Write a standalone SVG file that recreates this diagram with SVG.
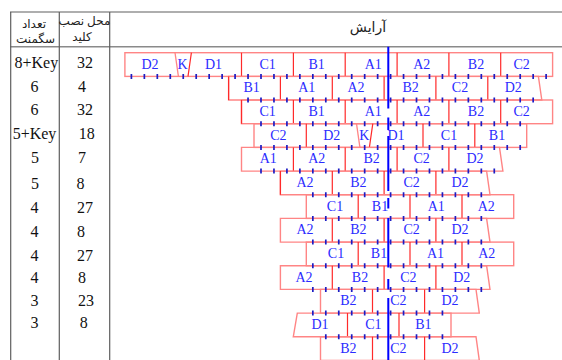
<svg xmlns="http://www.w3.org/2000/svg" width="562" height="360" viewBox="0 0 562 360">
<style>
.tl{stroke:#5f5f5f;stroke-width:1.2;fill:none}
.th{stroke:#8a8a8a;stroke-width:1.6;fill:none}
.fa{font-family:"Liberation Serif","DejaVu Sans",serif;font-size:12px;fill:#222;text-anchor:middle}
.num{font-family:"Liberation Serif",serif;font-size:16px;fill:#111}
.c1{text-anchor:middle}
.out{fill:none;stroke:#ff8585;stroke-width:1.4}
.dv{fill:none;stroke:#ff2a2a;stroke-width:1.2}
.sl{fill:none;stroke:#ff8585;stroke-width:1.3}
.lb{font-family:"Liberation Serif",serif;font-size:14px;fill:#2b2bff;text-anchor:middle}
.tk{fill:none;stroke:#1c1cc4;stroke-width:1.7}
.cl{fill:none;stroke:#0000ff;stroke-width:2}
</style>

<g id="table">
<path class="tl" d="M10 12H562"/>
<path class="th" d="M10 46.7H562"/>
<path class="tl" d="M10.7 12V360M59.3 12V360M109.7 12V360"/>
<text class="fa" x="34" y="27.5">تعداد</text>
<text class="fa" x="35.5" y="43">سگمنت</text>
<text class="fa" x="84.5" y="25">محل نصب</text>
<text class="fa" x="82" y="41">کلید</text>
<text class="fa" x="368" y="32" style="font-size:14px">آرایش</text>
</g>

<g id="col-count" class="num">
<text class="c1" x="36.3" y="68.3">8+Key</text>
<text class="c1" x="34.5" y="92">6</text>
<text class="c1" x="34.5" y="115">6</text>
<text class="c1" x="34.5" y="139.3">5+Key</text>
<text class="c1" x="35" y="163.3">5</text>
<text class="c1" x="35" y="189">5</text>
<text class="c1" x="34.5" y="212.7">4</text>
<text class="c1" x="34.5" y="236.7">4</text>
<text class="c1" x="34.5" y="260.7">4</text>
<text class="c1" x="34.5" y="282.7">4</text>
<text class="c1" x="34.5" y="306">3</text>
<text class="c1" x="34.5" y="328.3">3</text>
</g>
<g id="col-key" class="num">
<text x="77" y="68.3">32</text>
<text x="78" y="92">4</text>
<text x="77" y="115">32</text>
<text x="78.7" y="139.3">18</text>
<text x="78" y="163.3">7</text>
<text x="76.4" y="189">8</text>
<text x="77" y="212.7">27</text>
<text x="77" y="236.7">8</text>
<text x="77" y="260.7">27</text>
<text x="78" y="282.7">8</text>
<text x="78" y="306">23</text>
<text x="79.7" y="328.3">8</text>
</g>

<g id="row1">
<rect class="out" x="124.9" y="52.7" width="427.7" height="23.7"/>
<path class="sl" d="M175 52.7L178.4 76.4"/>
<path class="dv" d="M191.4 52.7L188 76.4M241.5 52.7V76.4M293.4 52.7V76.4M345.2 52.7V76.4M397.1 52.7V76.4M448.9 52.7V76.4M500.7 52.7V76.4"/>
<text class="lb" x="150" y="68.7">D2</text><text class="lb" x="182.5" y="68.7">K</text><text class="lb" x="213.5" y="68.7">D1</text><text class="lb" x="267.7" y="68.7">C1</text><text class="lb" x="316.7" y="68.7">B1</text><text class="lb" x="373.3" y="68.7">A1</text><text class="lb" x="421.7" y="68.7">A2</text><text class="lb" x="476" y="68.7">B2</text><text class="lb" x="521.7" y="68.7">C2</text>
</g>
<g id="row2">
<polygon class="out" points="228.6,76.4 538.4,76.4 541.8,100 228.6,100"/>
<path class="dv" d="M228.6 76.4V100M280.4 76.4V100M332.3 76.4V100M384.1 76.4V100M435.9 76.4V100M487.8 76.4V100"/>
<text class="lb" x="251.7" y="92.4">B1</text><text class="lb" x="306.7" y="92.4">A1</text><text class="lb" x="356" y="92.4">A2</text><text class="lb" x="410.7" y="92.4">B2</text><text class="lb" x="460" y="92.4">C2</text><text class="lb" x="513.3" y="92.4">D2</text>
</g>
<g id="row3">
<rect class="out" x="241.5" y="100" width="311.1" height="23.7"/>
<path class="dv" d="M241.5 100V123.7M293.4 100V123.7M345.2 100V123.7M397.1 100V123.7M448.9 100V123.7M500.7 100V123.7"/>
<text class="lb" x="267.7" y="116">C1</text><text class="lb" x="316.7" y="116">B1</text><text class="lb" x="373.3" y="116">A1</text><text class="lb" x="421.7" y="116">A2</text><text class="lb" x="476" y="116">B2</text><text class="lb" x="521.7" y="116">C2</text>
</g>
<g id="row4">
<rect class="out" x="254" y="123.7" width="272.7" height="23.7"/>
<path class="sl" d="M356.5 123.7L359.9 147.4"/>
<path class="dv" d="M306.3 123.7V147.4M372.8 123.7L369.4 147.4M423 123.7V147.4M474.8 123.7V147.4"/>
<text class="lb" x="278.3" y="139.7">C2</text><text class="lb" x="331.7" y="139.7">D2</text><text class="lb" x="364.2" y="139.7">K</text><text class="lb" x="396" y="139.7">D1</text><text class="lb" x="449" y="139.7">C1</text><text class="lb" x="497" y="139.7">B1</text>
</g>
<g id="row5">
<polygon class="out" points="241.5,147.4 499.5,147.4 502.9,171.1 241.5,171.1"/>
<path class="dv" d="M293.4 147.4V171.1M345.2 147.4V171.1M397.1 147.4V171.1M448.9 147.4V171.1"/>
<text class="lb" x="268.3" y="163.4">A1</text><text class="lb" x="316.7" y="163.4">A2</text><text class="lb" x="371.7" y="163.4">B2</text><text class="lb" x="421.7" y="163.4">C2</text><text class="lb" x="475" y="163.4">D2</text>
</g>
<g id="row6">
<polygon class="out" points="280.4,171.1 486.6,171.1 490,194.7 280.4,194.7"/>
<path class="dv" d="M280.4 171.1V194.7M332.3 171.1V194.7M384.1 171.1V194.7M435.9 171.1V194.7"/>
<text class="lb" x="305" y="187.1">A2</text><text class="lb" x="358.3" y="187.1">B2</text><text class="lb" x="411.7" y="187.1">C2</text><text class="lb" x="460" y="187.1">D2</text>
</g>
<g id="row7">
<rect class="out" x="306.3" y="194.7" width="207.4" height="23.7"/>
<path class="dv" d="M358.2 194.7V218.4M410 194.7V218.4M462 194.7V218.4"/>
<text class="lb" x="335" y="210.7">C1</text><text class="lb" x="380" y="210.7">B1</text><text class="lb" x="436.3" y="210.7">A1</text><text class="lb" x="486.3" y="210.7">A2</text>
</g>
<g id="row8">
<polygon class="out" points="280.4,218.4 486.6,218.4 490,242.1 280.4,242.1"/>
<path class="dv" d="M332.3 218.4V242.1M384.1 218.4V242.1M435.9 218.4V242.1"/>
<text class="lb" x="305" y="234.4">A2</text><text class="lb" x="358.3" y="234.4">B2</text><text class="lb" x="411.7" y="234.4">C2</text><text class="lb" x="460" y="234.4">D2</text>
</g>
<g id="row9">
<rect class="out" x="306.3" y="242.1" width="207.4" height="23.6"/>
<path class="dv" d="M358.2 242.1V265.7M410 242.1V265.7M462 242.1V265.7"/>
<text class="lb" x="336" y="258.1">C1</text><text class="lb" x="379" y="258.1">B1</text><text class="lb" x="435.5" y="258.1">A1</text><text class="lb" x="486.7" y="258.1">A2</text>
</g>
<g id="row10">
<polygon class="out" points="280.4,265.7 486.6,265.7 490,289.4 280.4,289.4"/>
<path class="dv" d="M332.3 265.7V289.4M384.1 265.7V289.4M435.9 265.7V289.4"/>
<text class="lb" x="304" y="281.7">A2</text><text class="lb" x="360" y="281.7">B2</text><text class="lb" x="408.3" y="281.7">C2</text><text class="lb" x="461.7" y="281.7">D2</text>
</g>
<g id="row11">
<polygon class="out" points="320.5,289.4 476,289.4 479.3,313.1 320.5,313.1"/>
<path class="dv" d="M372.5 289.4V313.1M424.6 289.4V313.1"/>
<text class="lb" x="348.3" y="305.4">B2</text><text class="lb" x="398.3" y="305.4">C2</text><text class="lb" x="450" y="305.4">D2</text>
</g>
<g id="row12">
<polygon class="out" points="297.3,313.1 451,313.1 451,336.7 293.3,336.7"/>
<path class="dv" d="M347.5 313.1V336.7M399 313.1V336.7"/>
<text class="lb" x="320" y="329.1">D1</text><text class="lb" x="373.3" y="329.1">C1</text><text class="lb" x="423.3" y="329.1">B1</text>
</g>
<g id="row13">
<polygon class="out" points="320.5,336.7 476,336.7 479.3,360.4 320.5,360.4"/>
<path class="dv" d="M372.5 336.7V360.4M424.6 336.7V360.4"/>
<text class="lb" x="348.3" y="352.7">B2</text><text class="lb" x="398.3" y="352.7">C2</text><text class="lb" x="450" y="352.7">D2</text>
</g>

<g id="connectors">
<path class="tk" d="M131.4 73.9v5m12.96-5v5m12.96-5v5m12.96-5v5m12.96-5v5m12.96-5v5m12.96-5v5m12.96-5v5m12.96-5v5m12.96-5v5m12.96-5v5m12.96-5v5m12.96-5v5m12.96-5v5m12.96-5v5m12.96-5v5m12.96-5v5m12.96-5v5m12.96-5v5m12.96-5v5m12.96-5v5m12.96-5v5m12.96-5v5m12.96-5v5m12.96-5v5m12.96-5v5m12.96-5v5m12.96-5v5m12.96-5v5m12.96-5v5m12.96-5v5m12.96-5v5m12.96-5v5"/>
<path class="tk" d="M248.04 97.5v5m12.96-5v5m12.96-5v5m12.96-5v5m12.96-5v5m12.96-5v5m12.96-5v5m12.96-5v5m12.96-5v5m12.96-5v5m12.96-5v5m12.96-5v5m12.96-5v5m12.96-5v5m12.96-5v5m12.96-5v5m12.96-5v5m12.96-5v5m12.96-5v5m12.96-5v5m12.96-5v5m12.96-5v5m12.96-5v5"/>
<path class="tk" d="M261 121.2v5m12.96-5v5m12.96-5v5m12.96-5v5m12.96-5v5m12.96-5v5m12.96-5v5m12.96-5v5m12.96-5v5m12.96-5v5m12.96-5v5m12.96-5v5m12.96-5v5m12.96-5v5m12.96-5v5m12.96-5v5m12.96-5v5m12.96-5v5m12.96-5v5m12.96-5v5m12.96-5v5"/>
<path class="tk" d="M261 144.9v5m12.96-5v5m12.96-5v5m12.96-5v5m12.96-5v5m12.96-5v5m12.96-5v5m12.96-5v5m12.96-5v5m12.96-5v5m12.96-5v5m12.96-5v5m12.96-5v5m12.96-5v5m12.96-5v5m12.96-5v5m12.96-5v5m12.96-5v5m12.96-5v5m12.96-5v5m12.96-5v5"/>
<path class="tk" d="M261 168.6v5m12.96-5v5m12.96-5v5m12.96-5v5m12.96-5v5m12.96-5v5m12.96-5v5m12.96-5v5m12.96-5v5m12.96-5v5m12.96-5v5m12.96-5v5m12.96-5v5m12.96-5v5m12.96-5v5m12.96-5v5m12.96-5v5m12.96-5v5m12.96-5v5"/>
<path class="tk" d="M312.84 192.2v5m12.96-5v5m12.96-5v5m12.96-5v5m12.96-5v5m12.96-5v5m12.96-5v5m12.96-5v5m12.96-5v5m12.96-5v5m12.96-5v5m12.96-5v5m12.96-5v5m12.96-5v5"/>
<path class="tk" d="M312.84 215.9v5m12.96-5v5m12.96-5v5m12.96-5v5m12.96-5v5m12.96-5v5m12.96-5v5m12.96-5v5m12.96-5v5m12.96-5v5m12.96-5v5m12.96-5v5m12.96-5v5m12.96-5v5"/>
<path class="tk" d="M312.84 239.6v5m12.96-5v5m12.96-5v5m12.96-5v5m12.96-5v5m12.96-5v5m12.96-5v5m12.96-5v5m12.96-5v5m12.96-5v5m12.96-5v5m12.96-5v5m12.96-5v5m12.96-5v5"/>
<path class="tk" d="M312.84 263.2v5m12.96-5v5m12.96-5v5m12.96-5v5m12.96-5v5m12.96-5v5m12.96-5v5m12.96-5v5m12.96-5v5m12.96-5v5m12.96-5v5m12.96-5v5m12.96-5v5m12.96-5v5"/>
<path class="tk" d="M312.84 286.9v5m12.96-5v5m12.96-5v5m12.96-5v5m12.96-5v5m12.96-5v5m12.96-5v5m12.96-5v5m12.96-5v5m12.96-5v5m12.96-5v5m12.96-5v5m12.96-5v5m12.96-5v5"/>
<path class="tk" d="M312.84 310.6v5m12.96-5v5m12.96-5v5m12.96-5v5m12.96-5v5m12.96-5v5m12.96-5v5m12.96-5v5m12.96-5v5m12.96-5v5m12.96-5v5"/>
<path class="tk" d="M325.8 334.2v5m12.96-5v5m12.96-5v5m12.96-5v5m12.96-5v5m12.96-5v5m12.96-5v5m12.96-5v5m12.96-5v5m12.96-5v5"/>
<path class="cl" d="M388.3 46.7V108.5M388.3 117.5V130M388.3 136V191M388.3 198V208.5M388.3 218V267.5M388.3 279V289.5M388.3 298V360"/>
</g>
</svg>
